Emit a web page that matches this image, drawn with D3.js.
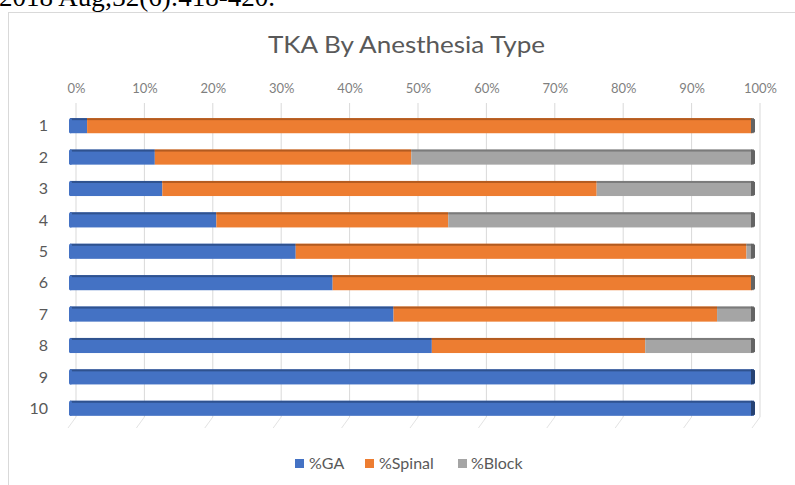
<!DOCTYPE html>
<html>
<head>
<meta charset="utf-8">
<script src="https://cdn.jsdelivr.net/npm/d3@7"></script>
<style>
  html, body { margin: 0; padding: 0; background: #fff; }
  svg { display: block; }
</style>
</head>
<body>
<svg id="chart" width="795" height="485"></svg>
<script>
// Share of TKA cases by anesthesia type, per row (percent)
const categories = ["1", "2", "3", "4", "5", "6", "7", "8", "9", "10"];
const seriesNames = ["%GA", "%Spinal", "%Block"];
const gaValues     = [2.5, 12.4, 13.5, 21.4, 33.0, 38.4, 47.3, 52.9, 100, 100];
const spinalValues = [97.3, 37.5, 63.5, 33.9, 65.9, 61.4, 47.3, 31.2, 0, 0];
const blockValues  = [0.2, 50.1, 23.0, 44.7, 1.1, 0.2, 5.4, 15.9, 0, 0];
const tickLabels = ["0%", "10%", "20%", "30%", "40%", "50%", "60%", "70%", "80%", "90%", "100%"];

const colors = ["#4472C4", "#ED7D31", "#A5A5A5"];
const darkColors = ["#2F528F", "#B35B20", "#7B7B7B"];

const svg = d3.select("#chart");
const W = 795, H = 485;
const font = "Lato, 'Open Sans', sans-serif";

// Caption line from the surrounding page, clipped by the top edge
svg.append("text")
  .attr("x", -1).attr("y", 6)
  .attr("font-family", "'Liberation Serif', 'Times New Roman', serif")
  .attr("font-size", 27)
  .attr("fill", "#000")
  .text("2018 Aug;32(6):418-420.");

// Chart area frame
svg.append("rect")
  .attr("x", 8.5).attr("y", 12.5)
  .attr("width", W + 10).attr("height", H)
  .attr("fill", "#fff")
  .attr("stroke", "#d9d9d9").attr("stroke-width", 1);

// Title
svg.append("text")
  .attr("x", 268).attr("y", 53)
  .attr("font-family", font)
  .attr("font-size", 24)
  .attr("textLength", 277)
  .attr("lengthAdjust", "spacingAndGlyphs")
  .attr("fill", "#595959")
  .text("TKA By Anesthesia Type");

// Scales
const x = d3.scaleLinear().domain([0, 100]).range([70, 754]);
const y = d3.scaleBand().domain(categories).range([110, 424]).paddingInner(0.52).paddingOuter(0.26);

// Depth offset of the back wall (3D look)
const depthX = 6;
const wallTop = 103, wallBottom = 417;

// Back-wall gridlines
const grid = svg.append("g");
const tickVals = d3.range(0, 101, 10);
grid.selectAll("line.v").data(tickVals).join("line")
  .attr("class", "v")
  .attr("x1", d => x(d) + depthX).attr("x2", d => x(d) + depthX)
  .attr("y1", wallTop).attr("y2", wallBottom)
  .attr("stroke", "#d9d9d9").attr("stroke-width", 1);
// Floor gridlines receding toward the front
grid.selectAll("line.f").data(tickVals).join("line")
  .attr("class", "f")
  .attr("x1", d => x(d) + depthX).attr("x2", d => x(d) + depthX - 8)
  .attr("y1", wallBottom).attr("y2", wallBottom + 11)
  .attr("stroke", "#e3e3e3").attr("stroke-width", 1);

// Top axis labels
const axisTop = d3.axisTop(d3.scaleLinear().domain([0, 100]).range([x(0) + depthX, x(100) + depthX]))
  .tickValues(tickVals)
  .tickFormat((d, i) => tickLabels[i])
  .tickSize(0).tickPadding(0);
const ax = svg.append("g").attr("transform", "translate(0,93)").call(axisTop);
ax.select(".domain").remove();
ax.selectAll("text")
  .attr("font-family", font)
  .attr("font-size", 13)
  .attr("fill", "#7f7f7f");

// Category labels
const axisLeft = d3.axisLeft(y).tickSize(0).tickPadding(0);
const ay = svg.append("g").attr("transform", "translate(48,0)").call(axisLeft);
ay.select(".domain").remove();
ay.selectAll("text")
  .attr("font-family", font)
  .attr("font-size", 16)
  .attr("fill", "#595959")
  .attr("dy", "0.35em");

// Stacked segments
const rows = categories.map((c, i) => ({ cat: c, "%GA": gaValues[i], "%Spinal": spinalValues[i], "%Block": blockValues[i] }));
const stacked = d3.stack().keys(seriesNames)(rows);

const bars = svg.append("g");
stacked.forEach((layer, si) => {
  const g = bars.append("g");
  const segs = layer.filter(d => d[1] - d[0] > 0);
  // front face
  g.selectAll("rect.face").data(segs).join("rect")
    .attr("class", "face")
    .attr("x", d => x(d[0]))
    .attr("y", d => y(d.data.cat))
    .attr("width", d => x(d[1]) - x(d[0]))
    .attr("height", y.bandwidth())
    .attr("fill", colors[si]);
  // top face, slightly darker
  g.selectAll("rect.top").data(segs).join("rect")
    .attr("class", "top")
    .attr("x", d => x(d[0]))
    .attr("y", d => y(d.data.cat))
    .attr("width", d => x(d[1]) - x(d[0]))
    .attr("height", 2)
    .attr("fill", darkColors[si]);
});

// Right end faces of the full bars
bars.append("g").selectAll("path").data(categories).join("path")
  .attr("d", c => {
    const x0 = x(100) - 3, y0 = y(c);
    return `M${x0},${y0} L${x0 + 4},${y0 + 1} L${x0 + 4},${y0 + y.bandwidth() - 1} L${x0},${y0 + y.bandwidth()} Z`;
  })
  .attr("fill", (c, i) => {
    const last = blockValues[i] > 0 ? 2 : (spinalValues[i] > 0 ? 1 : 0);
    return d3.color(darkColors[last]).darker(0.6);
  });

// Left rounded start
bars.append("g").selectAll("rect").data(categories).join("rect")
  .attr("x", x(0) - 1).attr("y", c => y(c))
  .attr("width", 3).attr("height", y.bandwidth())
  .attr("rx", 1.5)
  .attr("fill", colors[0]);

// Legend
const legendItems = [
  { name: "%GA", sx: 295, tx: 309 },
  { name: "%Spinal", sx: 365, tx: 379 },
  { name: "%Block", sx: 458, tx: 471 }
];
const lg = svg.append("g");
lg.selectAll("rect").data(legendItems).join("rect")
  .attr("x", d => d.sx).attr("y", 459)
  .attr("width", 9).attr("height", 9)
  .attr("fill", (d, i) => colors[i]);
lg.selectAll("text").data(legendItems).join("text")
  .attr("x", d => d.tx).attr("y", 469)
  .attr("font-family", font)
  .attr("font-size", 16)
  .attr("fill", "#595959")
  .text(d => d.name);
</script>
</body>
</html>
